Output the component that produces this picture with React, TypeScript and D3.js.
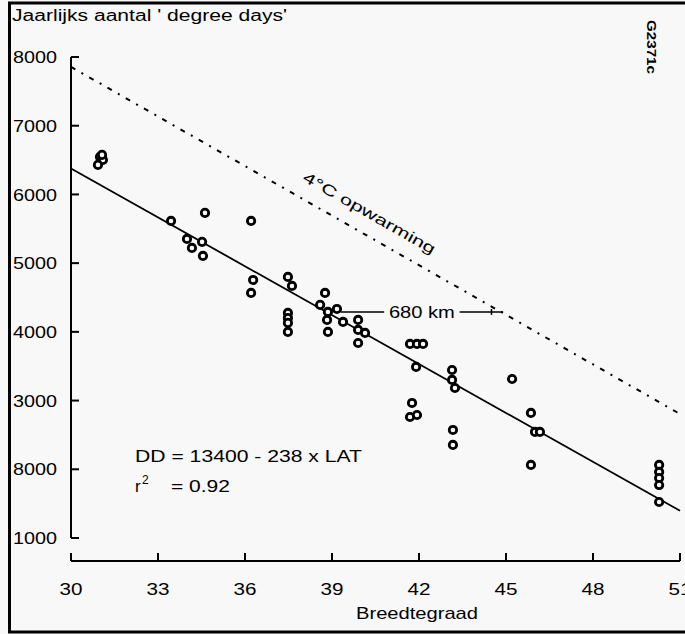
import React from "react";
import * as d3 from "d3";

const W = 685;
const H = 634;

const xTicks = [30, 33, 36, 39, 42, 45, 48, 51];
const yTicks = [1000, 2000, 3000, 4000, 5000, 6000, 7000, 8000];
const yTickLabels = ["1000", "8000", "3000", "4000", "5000", "6000", "7000", "8000"];

const lat = [
  31.0, 31.1, 30.93, 31.07,
  33.45, 34.62, 36.21, 34.0, 34.17, 34.52, 34.55,
  36.28, 36.21, 37.48, 37.62, 37.48, 37.48, 37.48, 37.48,
  38.76, 38.59, 38.86, 39.17, 38.83, 38.86,
  39.38, 39.9, 39.9, 40.14, 39.9,
  41.69, 41.93, 42.14, 41.9,
  43.14, 43.14, 43.24, 45.21,
  41.76, 41.69, 41.93, 43.17, 43.17,
  45.86, 46.0, 46.17, 45.86,
  50.28, 50.28, 50.28, 50.28, 50.28,
];
const degreeDays = [
  6546, 6502, 6430, 6575,
  5614, 5731, 5614, 5352, 5221, 5309, 5105,
  4755, 4566, 4799, 4668, 4275, 4202, 4130, 3999,
  4566, 4392, 4290, 4333, 4173, 3999,
  4144, 4173, 4028, 3984, 3838,
  3824, 3824, 3824, 3489,
  3445, 3300, 3183, 3314,
  2965, 2761, 2790, 2572, 2354,
  2820, 2543, 2543, 2063,
  2063, 1961, 1873, 1771, 1524,
];

const regressionLine: [number, number][] = [[30, 6378], [51, 1397]];
const warmingLine: [number, number][] = [[30, 7856], [51, 2805]];
const kmAnnotation = { from: 39.3, to: 44.9, value: 4290, gapFrom: 40.8, gapTo: 43.4, tick: 44.5 };

const titleText = "Jaarlijks aantal ' degree days'";
const xTitle = "Breedtegraad";
const warmingLabel = "4°C opwarming";
const kmLabel = "680 km";
const eqText = "DD = 13400 - 238 x LAT";
const r2Value = "= 0.92";
const idText = "G2371c";

const font = "'Liberation Sans', Arial, sans-serif";
const ink = "#000";

export default function App() {
  const x = d3.scaleLinear().domain([30, 51]).range([71, 680]);
  const y = d3.scaleLinear().domain([1000, 8000]).range([538, 57]);
  const line = d3.line<[number, number]>().x((d) => x(d[0])).y((d) => y(d[1]));

  const wx0 = x(warmingLine[0][0]);
  const wy0 = y(warmingLine[0][1]);
  const wx1 = x(warmingLine[1][0]);
  const wy1 = y(warmingLine[1][1]);
  const angle = (Math.atan2(wy1 - wy0, wx1 - wx0) * 180) / Math.PI;
  const labelLat = 40.2;
  const lx = x(labelLat);
  const ly = y(warmingLine[0][1] + ((warmingLine[1][1] - warmingLine[0][1]) * (labelLat - 30)) / 21) - 18;

  const ky = y(kmAnnotation.value);

  return (
    <svg
      width={W}
      height={H}
      style={{ position: "absolute", left: 0, top: 0, background: "#f8f8f8" }}
      fontFamily={font}
    >
      <rect x={9.5} y={3} width={700} height={629} fill="#f8f8f8" stroke={ink} strokeWidth={3} />
      <text x={12} y={21} fontSize={16} textLength={275} lengthAdjust="spacingAndGlyphs" fill={ink}>
        {titleText}
      </text>
      <text
        transform={`translate(647,47) rotate(90)`}
        textAnchor="middle"
        fontSize={12}
        fontWeight="bold"
        textLength={54}
        lengthAdjust="spacingAndGlyphs"
        fill={ink}
      >
        {idText}
      </text>

      {/* y axis */}
      <line x1={71} x2={71} y1={y(8000)} y2={y(1000)} stroke={ink} strokeWidth={2} />
      {yTicks.map((t, i) => (
        <g key={t}>
          <line x1={71} x2={79} y1={y(t)} y2={y(t)} stroke={ink} strokeWidth={2} />
          <text
            x={57}
            y={y(t)}
            dy="0.36em"
            textAnchor="end"
            fontSize={17}
            textLength={44}
            lengthAdjust="spacingAndGlyphs"
            fill={ink}
          >
            {yTickLabels[i]}
          </text>
        </g>
      ))}

      {/* x axis */}
      <line x1={x(30)} x2={x(51)} y1={561} y2={561} stroke={ink} strokeWidth={2} />
      {xTicks.map((t) => (
        <g key={t}>
          <line x1={x(t)} x2={x(t)} y1={561} y2={553} stroke={ink} strokeWidth={2} />
          <text
            x={x(t)}
            y={595}
            textAnchor="middle"
            fontSize={17}
            textLength={23}
            lengthAdjust="spacingAndGlyphs"
            fill={ink}
          >
            {t}
          </text>
        </g>
      ))}
      <text
        x={417}
        y={619}
        textAnchor="middle"
        fontSize={17}
        textLength={122}
        lengthAdjust="spacingAndGlyphs"
        fill={ink}
      >
        {xTitle}
      </text>

      {/* warming line */}
      <path d={line(warmingLine) || ""} fill="none" stroke={ink} strokeWidth={2} strokeDasharray="5 7 2 7" />
      <text
        transform={`translate(${lx},${ly}) rotate(${angle})`}
        textAnchor="middle"
        fontSize={15}
        fill={ink}
        textLength={150}
        lengthAdjust="spacingAndGlyphs"
      >
        {warmingLabel}
      </text>

      {/* regression line */}
      <path d={line(regressionLine) || ""} fill="none" stroke={ink} strokeWidth={1.8} />

      {/* 680 km annotation */}
      <line x1={x(kmAnnotation.from)} x2={x(kmAnnotation.gapFrom)} y1={ky} y2={ky} stroke={ink} strokeWidth={1.6} />
      <line x1={x(kmAnnotation.gapTo)} x2={x(kmAnnotation.to)} y1={ky} y2={ky} stroke={ink} strokeWidth={1.6} />
      <line x1={x(kmAnnotation.tick)} x2={x(kmAnnotation.tick)} y1={ky - 3} y2={ky + 3} stroke={ink} strokeWidth={1.5} />
      <text
        x={(x(kmAnnotation.gapFrom) + x(kmAnnotation.gapTo)) / 2}
        y={ky}
        dy="0.36em"
        textAnchor="middle"
        fontSize={17}
        textLength={66}
        lengthAdjust="spacingAndGlyphs"
        fill={ink}
      >
        {kmLabel}
      </text>

      {/* points */}
      {lat.map((l, i) => (
        <circle key={i} cx={x(l)} cy={y(degreeDays[i])} r={3.7} fill="#f8f8f8" stroke={ink} strokeWidth={2.8} />
      ))}

      {/* equation */}
      <text x={135} y={462} fontSize={17} textLength={227} lengthAdjust="spacingAndGlyphs" fill={ink}>
        {eqText}
      </text>
      <text x={135} y={492} fontSize={17} fill={ink}>
        r
      </text>
      <text x={142} y={484} fontSize={12} fill={ink}>
        2
      </text>
      <text x={171} y={492} fontSize={17} textLength={59} lengthAdjust="spacingAndGlyphs" fill={ink}>
        {r2Value}
      </text>
    </svg>
  );
}
